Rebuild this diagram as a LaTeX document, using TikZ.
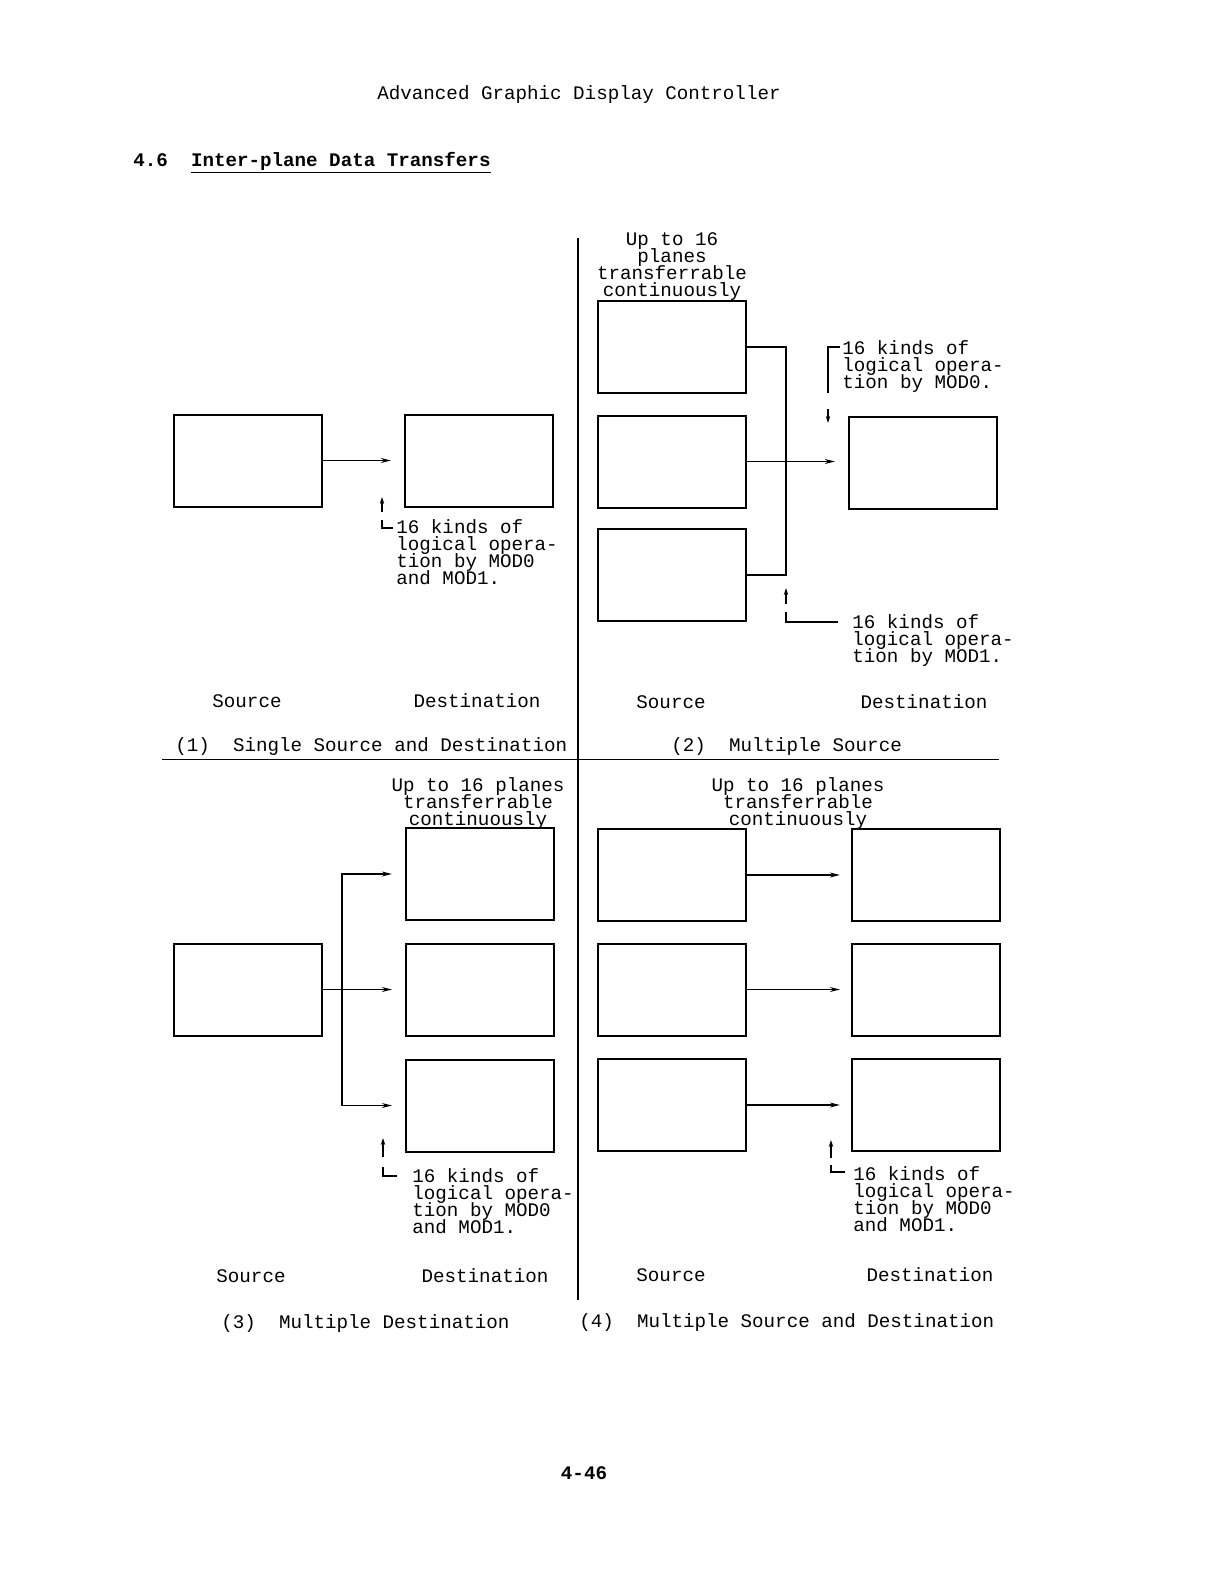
\documentclass[tikz,border=0pt]{standalone}
\usepackage{fontspec}
\setmainfont{Liberation Mono}
\usetikzlibrary{arrows.meta,positioning}

\newcommand{\notefont}{\fontsize{9.6}{8.5}\selectfont\lineskiplimit=-10pt\relax}

\tikzset{
  plane/.style={draw,line width=1pt,minimum width=74pt,minimum height=46pt,inner sep=0pt},
  feed/.style={line width=0.9pt,-{Stealth[length=5pt,width=2.4pt]}},
  bus/.style={line width=0.9pt},
  opmark/.style={line width=0.9pt,-{Stealth[length=3.5pt,width=2.2pt]}},
  lead/.style={line width=0.8pt},
  rule/.style={line width=0.9pt},
  note/.style={inner sep=0pt,anchor=north west,align=left,font=\notefont},
  head/.style={inner sep=0pt,anchor=north,align=center,font=\notefont},
  lbl/.style={inner sep=0pt,font=\notefont},
}

\begin{document}
\begin{tikzpicture}[x=0.5pt,y=-0.5pt]
    \useasboundingbox (0,0) rectangle (1224,1584);

    \node[lbl] (title) at (579,95) {Advanced Graphic Display Controller};
    \node[lbl,anchor=west,font=\notefont\bfseries] (sect) at (133,163) {4.6\ \ \underline{Inter-plane Data Transfers}};
    \node[lbl,font=\notefont\bfseries] (page) at (584,1473) {4-46};

    \coordinate (vt) at (578,238);
    \coordinate (vb) at (578,1300);
    \coordinate (hl) at (162,759.5);
    \coordinate (hr) at (999,759.5);
    \draw[rule] (vt) -- (vb);
    \draw[rule] (hl) -- (hr);

    % (1) single source and destination
    \node[plane] (s1) at (247.5,460.5) {};
    \node[plane] (d1) at (479,461) {};
    \coordinate (a1) at (391,460.5);
    \draw[feed] (s1) -- (a1);
    \coordinate (k1) at (382,512);
    \coordinate (t1) at (382,497);
    \draw[opmark] (k1) -- (t1);
    \coordinate (l1) at (382,520);
    \coordinate (m1) at (393,528);
    \draw[lead] (l1) |- (m1);
    \node[note] (n1) at (396,519) {16 kinds of\\logical opera-\\tion by MOD0\\and MOD1.};
    \node[lbl] (src1) at (247,701) {Source};
    \node[lbl] (dst1) at (477,701) {Destination};
    \node[lbl,anchor=west] (cap1) at (175,747) {(1)\ \ Single Source and Destination};

    % (2) multiple source
    \node[head] (h2) at (672,232) {Up to 16\\planes\\transferrable\\continuously};
    \node[plane] (q1) at (671.5,347) {};
    \node[plane] (q2) at (671.5,461.5) {};
    \node[plane] (q3) at (671.5,575) {};
    \node[plane] (d2) at (923,462.5) {};
    \coordinate (j2) at (786,461.5);
    \draw[bus] (q1) -| (j2) |- (q3);
    \coordinate (a2) at (835,461.5);
    \draw[feed] (q2) -- (a2);
    \coordinate (k2) at (828,409);
    \coordinate (t2) at (828,423);
    \draw[opmark] (k2) -- (t2);
    \coordinate (l2) at (828,393);
    \coordinate (m2) at (840,347);
    \draw[lead] (l2) |- (m2);
    \node[note] (n2) at (842,340) {16 kinds of\\logical opera-\\tion by MOD0.};
    \coordinate (k3) at (786,604);
    \coordinate (t3) at (786,588);
    \draw[opmark] (k3) -- (t3);
    \coordinate (l3) at (786,612);
    \coordinate (m3) at (838,622);
    \draw[lead] (l3) |- (m3);
    \node[note] (n3) at (852,614) {16 kinds of\\logical opera-\\tion by MOD1.};
    \node[lbl] (src2) at (671,702) {Source};
    \node[lbl] (dst2) at (924,702) {Destination};
    \node[lbl,anchor=west] (cap2) at (671,747) {(2)\ \ Multiple Source};

    % (3) multiple destination
    \node[head] (h3) at (478,777) {Up to 16 planes\\transferrable\\continuously};
    \node[plane] (s3) at (247.5,989.5) {};
    \node[plane] (e1) at (479.5,874) {};
    \node[plane] (e2) at (479.5,989.5) {};
    \node[plane] (e3) at (479.5,1105.5) {};
    \coordinate (j3) at (342,989.5);
    \coordinate (a3) at (392,874);
    \coordinate (b3) at (392,989.5);
    \coordinate (c3) at (392,1105.5);
    \draw[feed] (s3) -- (b3);
    \draw[feed] (j3) |- (a3);
    \draw[feed] (j3) |- (c3);
    \coordinate (k4) at (383,1157);
    \coordinate (t4) at (383,1138);
    \draw[opmark] (k4) -- (t4);
    \coordinate (l4) at (383,1167);
    \coordinate (m4) at (397,1176);
    \draw[lead] (l4) |- (m4);
    \node[note] (n4) at (412,1168) {16 kinds of\\logical opera-\\tion by MOD0\\and MOD1.};
    \node[lbl] (src3) at (251,1276) {Source};
    \node[lbl] (dst3) at (485,1276) {Destination};
    \node[lbl,anchor=west] (cap3) at (221,1324) {(3)\ \ Multiple Destination};

    % (4) multiple source and destination
    \node[head] (h4) at (798,777) {Up to 16 planes\\transferrable\\continuously};
    \foreach \i/\y in {1/875,2/989.5,3/1105} {
        \node[plane] (p\i) at (671.5,\y) {};
        \node[plane] (r\i) at (925.5,\y) {};
        \coordinate (b4\i) at (840,\y);
        \draw[feed] (p\i) -- (b4\i);
    }
    \coordinate (k5) at (831,1158);
    \coordinate (t5) at (831,1140);
    \draw[opmark] (k5) -- (t5);
    \coordinate (l5) at (831,1165);
    \coordinate (m5) at (845,1172);
    \draw[lead] (l5) |- (m5);
    \node[note] (n5) at (853,1166) {16 kinds of\\logical opera-\\tion by MOD0\\and MOD1.};
    \node[lbl] (src4) at (671,1275) {Source};
    \node[lbl] (dst4) at (930,1275) {Destination};
    \node[lbl,anchor=west] (cap4) at (579,1323) {(4)\ \ Multiple Source and Destination};
\end{tikzpicture}
\end{document}
